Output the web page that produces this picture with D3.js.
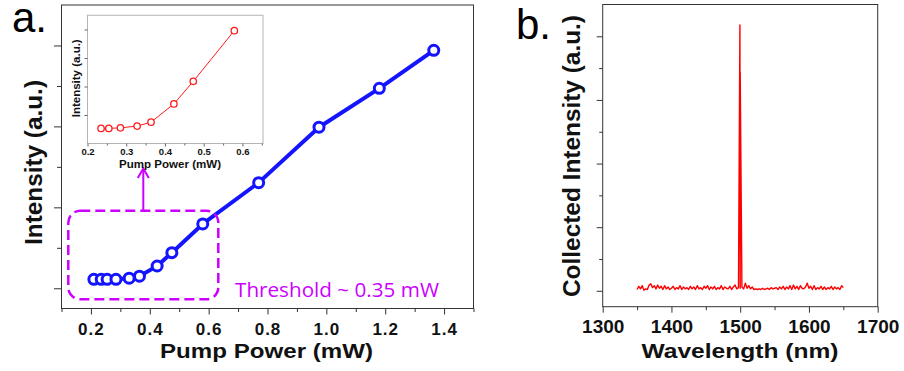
<!DOCTYPE html>
<meta charset="utf-8">
<style>
body { margin: 0; background: #fff; }
svg { display: block; font-family: "Liberation Sans", Arial, sans-serif; }
.frame { fill: none; stroke: #333; stroke-width: 1; }
.inframe { fill: #fff; stroke: #b4b4b4; stroke-width: 1; }
.tick line { stroke: #333; }
.inset .tick line { stroke: #666; }
.tick text { font-weight: bold; fill: #111; }
.title { font-weight: bold; fill: #111; text-anchor: middle; }
.panel { font-size: 42px; fill: #000; }
.pumpLine { fill: none; stroke: #1414ff; stroke-width: 4; stroke-linejoin: round; }
.pumpDot { fill: #fff; stroke: #1414ff; stroke-width: 3; }
.insetLine { fill: none; stroke: #ff1a1a; stroke-width: 1; }
.insetDot { fill: #fff; stroke: #ff1a1a; stroke-width: 1.3; }
.spectrum { fill: none; stroke: #ff0000; stroke-width: 1.4; stroke-linejoin: round; }
.zoomBox { fill: none; stroke: #cc00ff; stroke-width: 2.5; stroke-dasharray: 10 5; }
.arrow { fill: none; stroke: #cc00ff; stroke-width: 2; }
</style>
<svg width="904" height="371" viewBox="0 0 904 371"></svg>
<script src="https://d3js.org/d3.v7.min.js"></script>
<script>

// panel a: output vs pump power
var pumpPower = [0.21, 0.235, 0.255, 0.285, 0.33, 0.365, 0.425, 0.475, 0.58, 0.77, 0.975, 1.18, 1.365];
var pumpIntensity = [0.22, 0.22, 0.22, 0.22, 0.25, 0.30, 0.55, 0.88, 1.59, 2.61, 3.98, 4.94, 5.88];

// inset: the low-power part
var insetPower = [0.235, 0.255, 0.285, 0.328, 0.364, 0.423, 0.473, 0.579];
var insetIntensity = [0.53, 0.53, 0.55, 0.61, 0.75, 1.39, 2.18, 3.96];

var aTicks = [0.2, 0.4, 0.6, 0.8, 1.0, 1.2, 1.4];
var aMinor = [0.1, 0.3, 0.5, 0.7, 0.9, 1.1, 1.3, 1.5];
var insetTicks = [0.2, 0.3, 0.4, 0.5, 0.6];
var insetMinor = [0.25, 0.35, 0.45, 0.55, 0.65];

// panel b: spectrum, sampled every 2.5 nm from 1350 to 1650
var specStart = 1350, specStep = 2.5;
var specIntensity = [
  0.02, 0.07, 0.03, 0.08, 0.01, 0.03, 0.02, 0.09, 0.11, 0.05,
  0.08, 0.03, 0.09, 0.04, 0.07, 0.02, 0.08, 0.03, 0.06, 0.02,
  0.04, 0.07, 0.02, 0.05, 0.03, 0.08, 0.02, 0.06, 0.03, 0.05,
  0.02, 0.07, 0.03, 0.06, 0.02, 0.08, 0.03, 0.05, 0.02, 0.07,
  0.04, 0.08, 0.02, 0.06, 0.03, 0.07, 0.02, 0.05, 0.03, 0.08,
  0.02, 0.06, 0.04, 0.03, 0.07, 0.02, 0.06, 0.09, 0.03, 0.05,
  0.04, 0.06, 0.03, 0.12, 0.04, 0.08, 0.03, 0.06, 0.02, 0.03,
  0.02, 0.03, 0.02, 0.04, 0.02, 0.03, 0.04, 0.02, 0.05, 0.03,
  0.04, 0.05, 0.02, 0.06, 0.03, 0.07, 0.02, 0.06, 0.03, 0.08,
  0.02, 0.09, 0.03, 0.07, 0.02, 0.08, 0.04, 0.03, 0.06, 0.12,
  0.04, 0.07, 0.02, 0.08, 0.02, 0.05, 0.03, 0.07, 0.02, 0.06,
  0.02, 0.05, 0.03, 0.07, 0.02, 0.06, 0.03, 0.05, 0.02, 0.08,
  0.05
];
var peakWavelength = [1499.6, 1500.0];
var peakIntensity = [4.18, 3.43];

var bTicks = [1300, 1400, 1500, 1600, 1700];
var bMinor = [1350, 1450, 1550, 1650];

var svg = d3.select("svg");

// ---------- panel a ----------
var xA = d3.scaleLinear([0.1, 1.5], [61.5, 473.5]),
    yA = d3.scaleLinear([-0.5, 7], [308.5, 5]);

var gA = svg.append("g");

gA.append("g")
  .attr("transform", "translate(0,308.5)")
  .call(d3.axisBottom(xA).tickValues(aMinor).tickSize(3.5).tickFormat(""))
  .call(g => g.select(".domain").remove());

gA.append("g")
  .attr("transform", "translate(0,308.5)")
  .call(d3.axisBottom(xA).tickValues(aTicks).tickSize(6).tickFormat(d3.format(".1f")))
  .call(g => g.select(".domain").remove())
  .call(g => g.selectAll("text").attr("y", 26.5).attr("dy", null)
    .style("font-size", "17px").style("letter-spacing", "1px"));

gA.append("g")
  .attr("transform", "translate(61.5,0)")
  .call(d3.axisLeft(yA).tickValues([0, 2, 4, 6]).tickSize(7.5).tickFormat(""))
  .call(g => g.select(".domain").remove());

gA.append("g")
  .attr("transform", "translate(61.5,0)")
  .call(d3.axisLeft(yA).tickValues([1, 3, 5]).tickSize(4.5).tickFormat(""))
  .call(g => g.select(".domain").remove());

gA.append("rect").attr("class", "frame")
  .attr("x", xA.range()[0]).attr("y", yA.range()[1])
  .attr("width", xA.range()[1] - xA.range()[0])
  .attr("height", yA.range()[0] - yA.range()[1]);

var pumpData = pumpPower.map((p, i) => [p, pumpIntensity[i]]);

gA.append("path").attr("class", "pumpLine")
  .attr("d", d3.line().x(d => xA(d[0])).y(d => yA(d[1]))(pumpData));

gA.selectAll(".pumpDot").data(pumpData).join("circle")
  .attr("class", "pumpDot")
  .attr("cx", d => xA(d[0])).attr("cy", d => yA(d[1])).attr("r", 5);

// dashed box marking the zoomed region, arrow up to the inset
gA.append("rect").attr("class", "zoomBox")
  .attr("x", 68.3).attr("y", 210.7).attr("width", 150).attr("height", 88.6)
  .attr("rx", 12).attr("ry", 12);

gA.append("line").attr("class", "arrow")
  .attr("x1", 143.3).attr("y1", 210.7).attr("x2", 143.3).attr("y2", 169);
gA.append("polyline").attr("class", "arrow")
  .attr("points", "137.8,178 143.3,168.5 148.8,178");

gA.append("text")
  .attr("x", 235).attr("y", 296.5)
  .attr("textLength", 204).attr("lengthAdjust", "spacingAndGlyphs")
  .style("font-family", "'Open Sans', sans-serif")
  .style("font-size", "20px").style("fill", "#cc00ff")
  .text("Threshold ~ 0.35 mW");

gA.append("text").attr("class", "title")
  .attr("x", 266.5).attr("y", 358)
  .attr("textLength", 213).attr("lengthAdjust", "spacingAndGlyphs")
  .style("font-size", "20.5px")
  .text("Pump Power (mW)");

gA.append("text").attr("class", "title")
  .attr("transform", "translate(42,162.5) rotate(-90)")
  .attr("textLength", 165).attr("lengthAdjust", "spacingAndGlyphs")
  .style("font-size", "24px")
  .text("Intensity (a.u.)");

svg.append("text").attr("class", "panel").attr("x", 12).attr("y", 32).text("a.");

// ---------- inset ----------
var xI = d3.scaleLinear([0.2, 0.653], [87.5, 263]),
    yI = d3.scaleLinear([0, 4.5], [143.5, 15.25]);

var gI = svg.append("g").attr("class", "inset");

gI.append("rect").attr("class", "inframe")
  .attr("x", xI.range()[0]).attr("y", yI.range()[1])
  .attr("width", xI.range()[1] - xI.range()[0])
  .attr("height", yI.range()[0] - yI.range()[1]);

gI.append("g")
  .attr("transform", "translate(0,143.5)")
  .call(d3.axisBottom(xI).tickValues(insetMinor.filter(v => v < 0.653)).tickSize(2).tickFormat(""))
  .call(g => g.select(".domain").remove());

gI.append("g")
  .attr("transform", "translate(0,143.5)")
  .call(d3.axisBottom(xI).tickValues(insetTicks).tickSize(3).tickFormat(d3.format(".1f")))
  .call(g => g.select(".domain").remove())
  .call(g => g.selectAll("text").attr("y", 11.3).attr("dy", null).style("font-size", "9.5px"));

gI.append("g")
  .attr("transform", "translate(87.5,0)")
  .call(d3.axisLeft(yI).tickValues([1, 2, 3, 4]).tickSize(3).tickFormat(""))
  .call(g => g.select(".domain").remove());

var insetData = insetPower.map((p, i) => [p, insetIntensity[i]]);

gI.append("path").attr("class", "insetLine")
  .attr("d", d3.line().x(d => xI(d[0])).y(d => yI(d[1]))(insetData));

gI.selectAll(".insetDot").data(insetData).join("circle")
  .attr("class", "insetDot")
  .attr("cx", d => xI(d[0])).attr("cy", d => yI(d[1])).attr("r", 3.2);

gI.append("text").attr("class", "title")
  .attr("x", 170).attr("y", 167.5)
  .attr("textLength", 102).attr("lengthAdjust", "spacingAndGlyphs")
  .style("font-size", "11px")
  .text("Pump Power (mW)");

gI.append("text").attr("class", "title")
  .attr("transform", "translate(80,78.3) rotate(-90)")
  .attr("textLength", 78).attr("lengthAdjust", "spacingAndGlyphs")
  .style("font-size", "11.5px")
  .text("Intensity (a.u.)");

// ---------- panel b ----------
var xB = d3.scaleLinear([1300, 1700], [602.7, 877.7]),
    yB = d3.scaleLinear([-0.25, 4.5], [306.7, 4.5]);

var gB = svg.append("g");

gB.append("g")
  .attr("transform", "translate(0,306.7)")
  .call(d3.axisBottom(xB).tickValues(bMinor).tickSize(3.5).tickFormat(""))
  .call(g => g.select(".domain").remove());

gB.append("g")
  .attr("transform", "translate(0,306.7)")
  .call(d3.axisBottom(xB).tickValues(bTicks).tickSize(6).tickFormat(d3.format("d")))
  .call(g => g.select(".domain").remove())
  .call(g => g.selectAll("text").attr("y", 26.8).attr("dy", null).style("font-size", "19px"));

gB.append("g")
  .attr("transform", "translate(602.7,0)")
  .call(d3.axisLeft(yB).tickValues([0, 1, 2, 3, 4]).tickSize(6).tickFormat(""))
  .call(g => g.select(".domain").remove());

gB.append("g")
  .attr("transform", "translate(602.7,0)")
  .call(d3.axisLeft(yB).tickValues([0.5, 1.5, 2.5, 3.5]).tickSize(3.5).tickFormat(""))
  .call(g => g.select(".domain").remove());

gB.append("rect").attr("class", "frame")
  .attr("x", xB.range()[0]).attr("y", yB.range()[1])
  .attr("width", xB.range()[1] - xB.range()[0])
  .attr("height", yB.range()[0] - yB.range()[1]);

var spec = specIntensity.map((v, i) => [specStart + i * specStep, v])
  .concat(peakWavelength.map((w, i) => [w, peakIntensity[i]]))
  .sort((a, b) => a[0] - b[0]);

gB.append("path").attr("class", "spectrum")
  .attr("d", d3.line().x(d => xB(d[0])).y(d => yB(d[1]))(spec));

gB.append("text").attr("class", "title")
  .attr("x", 740).attr("y", 358)
  .attr("textLength", 197).attr("lengthAdjust", "spacingAndGlyphs")
  .style("font-size", "20.5px")
  .text("Wavelength (nm)");

gB.append("text").attr("class", "title")
  .attr("transform", "translate(580,156) rotate(-90)")
  .attr("textLength", 282).attr("lengthAdjust", "spacingAndGlyphs")
  .style("font-size", "24px")
  .text("Collected Intensity (a.u.)");

svg.append("text").attr("class", "panel").attr("x", 516).attr("y", 38.5).text("b.");
</script>
